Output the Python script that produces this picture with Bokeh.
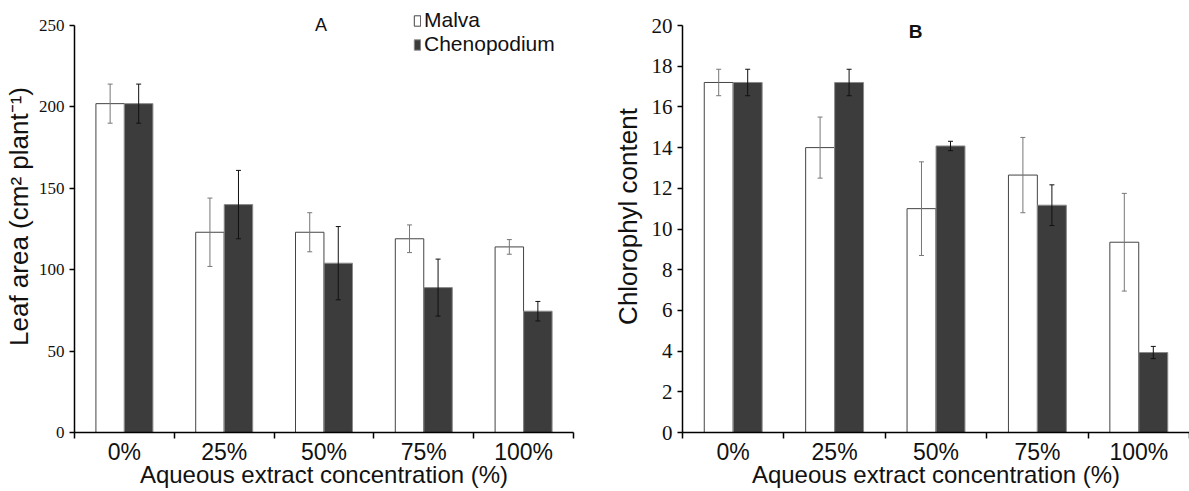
from bokeh.plotting import figure
from bokeh.models import (ColumnDataSource, FixedTicker, Whisker, TeeHead, Legend,
                          LegendItem, Label, Range1d)
from bokeh.transform import dodge
from bokeh.layouts import row
from bokeh.embed import file_html
from bokeh.resources import INLINE

categories = ["0%", "25%", "50%", "75%", "100%"]
series = ["Malva", "Chenopodium"]

leaf_malva = [202, 123, 123, 119, 114]
leaf_malva_err = [12, 21, 12, 8.5, 4.5]
leaf_cheno = [202, 140, 104, 89, 74.5]
leaf_cheno_err = [12, 21, 22.5, 17.5, 6]

chl_malva = [17.2, 14.0, 11.0, 12.65, 9.35]
chl_malva_err = [0.65, 1.5, 2.3, 1.85, 2.4]
chl_cheno = [17.2, 17.2, 14.08, 11.17, 3.93]
chl_cheno_err = [0.65, 0.65, 0.23, 1.0, 0.3]

leaf_ticks = [0, 50, 100, 150, 200, 250]
chl_ticks = [0, 2, 4, 6, 8, 10, 12, 14, 16, 18, 20]

FONT = "Liberation Sans"
NARROW = "Liberation Sans Narrow"
DARK = "#3c3c3c"
BW = 0.285
OFF = 0.143
HEIGHT = 490
TOP_PAD = 25  # px between frame top and the highest tick
MB_BOTTOM = 58


def make_panel(m, me, c, ce, yticks, ylabel, width, mb_left, mb_right,
               tick_font_size, ylab_standoff, show_legend,
               title_text, title_x, title_bold):
    n = len(categories)
    xc = [i + 0.5 for i in range(n)]
    src = ColumnDataSource(dict(
        xc=xc, m=m, c=c,
        m_up=[v + e for v, e in zip(m, me)], m_lo=[v - e for v, e in zip(m, me)],
        c_up=[v + e for v, e in zip(c, ce)], c_lo=[v - e for v, e in zip(c, ce)],
    ))
    frame_h = HEIGHT - MB_BOTTOM
    y_top = yticks[-1] * frame_h / (frame_h - TOP_PAD)
    p = figure(width=width, height=HEIGHT, output_backend="svg", toolbar_location=None,
               x_range=Range1d(0, len(categories)), y_range=Range1d(yticks[0], y_top),
               min_border_left=mb_left, min_border_right=mb_right,
               min_border_top=0, min_border_bottom=MB_BOTTOM)
    p.outline_line_color = None
    p.grid.visible = False
    p.background_fill_color = "white"

    rm = p.vbar(x=dodge("xc", -OFF, range=p.x_range), top="m", bottom=0, width=BW,
                source=src, fill_color="white", line_color="#444444", line_width=1)
    rc = p.vbar(x=dodge("xc", OFF, range=p.x_range), top="c", bottom=0, width=BW,
                source=src, fill_color=DARK, line_color="#8a8a8a", line_width=1)

    wm = Whisker(base=dodge("xc", -OFF, range=p.x_range), upper="m_up", lower="m_lo",
                 source=src, line_color="#777777", line_width=1, level="overlay",
                 upper_head=TeeHead(size=5, line_color="#777777", line_width=1),
                 lower_head=TeeHead(size=5, line_color="#777777", line_width=1))
    wc = Whisker(base=dodge("xc", OFF, range=p.x_range), upper="c_up", lower="c_lo",
                 source=src, line_color="#111111", line_width=1, level="overlay",
                 upper_head=TeeHead(size=5, line_color="#111111", line_width=1),
                 lower_head=TeeHead(size=5, line_color="#111111", line_width=1))
    p.add_layout(wm)
    p.add_layout(wc)

    # x axis
    xa = p.xaxis[0]
    xa.ticker = FixedTicker(ticks=xc, minor_ticks=list(range(n + 1)))
    xa.major_label_overrides = {x: lab for x, lab in zip(xc, categories)}
    xa.major_tick_out = 0
    xa.major_tick_in = 0
    xa.minor_tick_out = 6
    xa.minor_tick_in = 0
    xa.minor_tick_line_color = "black"
    xa.minor_tick_line_width = 1.5
    xa.axis_line_width = 1.5
    xa.axis_line_color = "black"
    xa.major_label_text_font = FONT
    xa.major_label_text_font_size = "23px"
    xa.major_label_text_color = "#111111"
    xa.major_label_standoff = 0
    xa.axis_label = "Aqueous extract concentration (%)"
    xa.axis_label_text_font = FONT
    xa.axis_label_text_font_size = "24px"
    xa.axis_label_text_font_style = "normal"
    xa.axis_label_text_color = "#111111"
    xa.axis_label_standoff = -7

    # y axis
    ya = p.yaxis[0]
    ya.ticker = FixedTicker(ticks=yticks)
    ya.bounds = (yticks[0], yticks[-1])
    ya.minor_tick_line_color = None
    ya.major_tick_out = 5
    ya.major_tick_in = 0
    ya.major_tick_line_width = 1.5
    ya.axis_line_width = 1.5
    ya.axis_line_color = "black"
    ya.major_label_text_font = NARROW
    ya.major_label_text_font_size = tick_font_size
    ya.major_label_text_color = "#111111"
    ya.major_label_standoff = 5
    ya.axis_label = ylabel
    ya.axis_label_text_font = FONT
    ya.axis_label_text_font_size = "26px"
    ya.axis_label_text_font_style = "normal"
    ya.axis_label_text_color = "#111111"
    ya.axis_label_standoff = ylab_standoff

    p.add_layout(Label(x=title_x, y=yticks[-1], text=title_text, text_font=FONT,
                       text_font_size="19px" if title_bold else "18px",
                       text_font_style="bold" if title_bold else "normal",
                       text_align="center", text_baseline="middle",
                       y_offset=-6 if title_bold else 1, text_color="#111111"))

    if show_legend:
        common = dict(orientation="vertical", glyph_width=8, glyph_height=13,
                      label_standoff=3, label_text_font=FONT,
                      label_text_font_size="21px", label_text_color="#111111",
                      spacing=0, padding=0, margin=0,
                      border_line_color=None, background_fill_alpha=0)
        leg1 = Legend(items=[LegendItem(label=series[0], renderers=[rm])],
                      location=(339, frame_h - 32), **common)
        leg2 = Legend(items=[LegendItem(label=series[1], renderers=[rc])],
                      location=(339, frame_h - 56), **common)
        p.add_layout(leg1)
        p.add_layout(leg2)
    return p


pA = make_panel(leaf_malva, leaf_malva_err, leaf_cheno, leaf_cheno_err, leaf_ticks,
                "Leaf area (cm\u00b2 plant\u207b\u00b9)", 609, 73, 36, "17px", 2,
                True, "A", 2.47, False)
pB = make_panel(chl_malva, chl_malva_err, chl_cheno, chl_cheno_err, chl_ticks,
                "Chlorophyl content", 580, 66, 0, "21px", 6,
                False, "B", 2.30, True)

layout = row(pA, pB, spacing=0)
open("out.html", "w").write(file_html(layout, INLINE))
